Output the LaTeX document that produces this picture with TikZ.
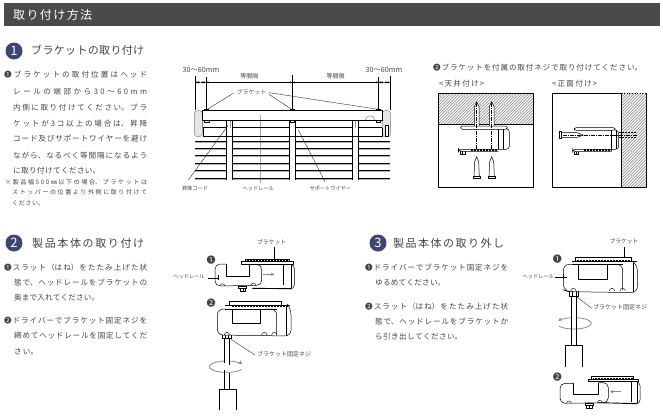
\documentclass[tikz,border=0pt]{standalone}
\usepackage{fontspec}
\usetikzlibrary{arrows.meta}
\newfontfamily\jp{Noto Sans CJK JP}
\definecolor{barc}{HTML}{4A4A4A}
\definecolor{navy}{HTML}{3F4470}
\definecolor{bodyc}{HTML}{444444}
\definecolor{capc}{HTML}{E6E6E6}
\newcounter{tn}
\newcommand\sk{\hspace{0pt plus 1fil}}
% fitted line of text: x, y, width, size, text
\newcommand\fitline[5]{\stepcounter{tn}\node[fittxt] (t\thetn) at (#1,#2) {\parbox{#3pt}{\fontsize{#4}{#4}\jp\XeTeXlinebreaklocale "ja"\XeTeXlinebreakskip=0pt plus 1fil\parfillskip=0pt\relax\noindent #5\par}};}
% short label centred in the current scope
\newcommand\lab[4]{\stepcounter{tn}\node[labtxt,font=\fontsize{#3}{#3}\jp] (t\thetn) at (#1,#2) {#4};}
\tikzset{
 fittxt/.style={anchor=west,inner sep=0pt,text=bodyc},
 labtxt/.style={inner sep=0pt,text=bodyc},
 ln/.style={line width=0.5pt,black},
 thk/.style={line width=0.9pt,black},
 lead/.style={line width=0.3pt,black},
 rot/.style={line width=0.8pt,black!45},
 fatarrow/.style={line width=1pt,black!45,-{Triangle[length=3pt,width=3pt]}},
 dimarrow/.style={line width=0.5pt,black,{Stealth[length=2.5pt,width=2pt]}-{Stealth[length=2.5pt,width=2pt]}},
 ctr/.style={line width=0.4pt,black,dash pattern=on 4pt off 1pt on 1pt off 1pt},
 hat/.style={line width=0.3pt,black!70},
 zoomA/.style={shift={(170,60)},x=0.33333pt,y=-0.33333pt},
 zoomB/.style={shift={(430,60)},x=0.33333pt,y=-0.33333pt},
 zoomC/.style={shift={(165,230)},x=0.33333pt,y=-0.33333pt},
 zoomD/.style={shift={(510,230)},x=0.33333pt,y=-0.33333pt},
 numdot/.style={circle,fill=navy,minimum size=17pt,inner sep=0pt,text=white,font=\fontsize{13}{13}\selectfont\jp},
}
\begin{document}
\begin{tikzpicture}[x=1pt,y=-1pt,line join=round]
\useasboundingbox (0,0) rectangle (663,415);
\fill[white] (0,0) rectangle (663,415);
% header
\fill[barc] (4,3) rectangle (660,26);
\node[anchor=west,inner sep=0pt,text=white] (hd) at (13,15) {\parbox{79pt}{\fontsize{12}{12}\jp\XeTeXlinebreaklocale "ja"\XeTeXlinebreakskip=0pt plus 1fil\parfillskip=0pt\relax\noindent 取り付け方法\par}};
% section heads
\node[numdot] (n1) at (14,51) {1};
\fitline{31}{50}{113}{11}{ブラケットの取り付け}
\node[numdot] (n2) at (14,243) {2};
\fitline{32}{243}{112}{11}{製品本体の取り付け}
\node[numdot] (n3) at (378,243) {3};
\fitline{393}{243}{111}{11}{製品本体の取り外し}
% body 1
\fitline{4}{75}{143}{7.6}{❶ブラケットの取付位置はヘッド}
\fitline{13}{92}{134}{7.6}{レールの端部から3\sk0\sk〜\sk6\sk0\sk m\sk m}
\fitline{13}{108}{134}{7.6}{内側に取り付けてください。ブラ}
\fitline{13}{124}{134}{7.6}{ケットが3コ以上の場合は、昇降}
\fitline{13}{139}{134}{7.6}{コード及びサポートワイヤーを避け}
\fitline{13}{156}{134}{7.6}{ながら、なるべく等間隔になるよう}
\fitline{13}{171}{87}{7.6}{に取り付けてください。}
\fitline{5}{182}{142}{6}{※製品幅5\sk0\sk0\sk㎜以下の場合、ブラケットは}
\fitline{12}{192}{135}{6}{ストッパーの位置より外側に取り付けて}
\fitline{12}{203}{32}{6}{ください。}
% body 2
\fitline{4}{268}{143}{7.6}{❶スラット（はね）をたたみ上げた状}
\fitline{14}{283}{133}{7.6}{態で、ヘッドレールをブラケットの}
\fitline{14}{298}{85}{7.6}{奥まで入れてください。}
\fitline{4}{321}{143}{7.6}{❷ドライバーでブラケット固定ネジを}
\fitline{14}{336}{133}{7.6}{締めてヘッドレールを固定してくだ}
\fitline{14}{352}{24}{7.6}{さい。}
% body 3
\fitline{365}{268}{143}{7.6}{❶ドライバーでブラケット固定ネジを}
\fitline{375}{283}{70}{7.6}{ゆるめてください。}
\fitline{365}{307}{143}{7.6}{❷スラット（はね）をたたみ上げた状}
\fitline{375}{322}{133}{7.6}{態で、ヘッドレールをブラケットか}
\fitline{375}{337}{87}{7.6}{ら引き出してください。}
% heading of fixing views
\fitline{433}{68}{209}{7.6}{❷ブラケットを付属の取付ネジで取り付けてください。}
\fitline{439}{84}{45}{7.6}{<天井付け>}
\fitline{552}{84}{45}{7.6}{<正面付け>}

%% ---------- diagram A
\begin{scope}[zoomA]
 \foreach \y in {243,265,287,310,332,354}{
  \draw[line width=0.9pt,black!30] (75,\y+3) -- (660,\y+3);
  \draw[line width=0.4pt,black] (75,\y) -- (660,\y);
 }
 \foreach \a/\b in {170/186,358/376,548/566}{
  \fill[white] (\a,182) rectangle (\b,360);
  \draw[ln] (\a,182) -- (\a,360) (\b,182) -- (\b,360);
 }
 % end caps
 \draw[line width=0.4pt,black!50,fill=capc,rounded corners=3pt] (73,152) rectangle (97,230);
 \draw[line width=0.4pt,black!50,fill=capc,rounded corners=3pt] (637,152) rectangle (662,230);
 \draw[ln,fill=white] (645,195) rectangle (655,230);
 % rail
 \draw[thk,fill=white] (97,152) rectangle (637,182);
 \fill[white] (170.7,182.5) rectangle (185.3,230);
 \fill[white] (358.7,182.5) rectangle (375.3,230);
 \fill[white] (548.7,182.5) rectangle (565.3,230);
 \draw[thk] (100,203) -- (100,230) -- (637,230) -- (637,203);
 \draw[ln] (100,203) -- (170,203) (186,203) -- (358,203) (376,203) -- (548,203) (566,203) -- (637,203);
 \draw[ln] (170,203) -- (170,230) (186,203) -- (186,230) (358,203) -- (358,230) (376,203) -- (376,230) (548,203) -- (548,230) (566,203) -- (566,230);
 \draw[line width=0.6pt,black!40] (180,182) -- (180,203) (557,182) -- (557,203);
 \draw[line width=0.4pt,black!60] (97,182) -- (97,203) (585,182) arc[start angle=180,end angle=360,radius=15];
 % brackets
 \foreach \x in {103,360,618}{
  \fill[black] (\x,148) rectangle (\x+14,152);
  \draw[line width=0.4pt,fill=white] (\x,182) rectangle (\x+14,188);
 }
 % dimension lines
 \draw[lead] (75,48) -- (75,150) (108,50) -- (108,150) (367,45) -- (367,150) (625,50) -- (625,150) (660,48) -- (660,150);
 \draw[dimarrow] (75,67) -- (92,67);
 \draw[dimarrow] (92,67) -- (108,67);
 \draw[dimarrow] (108,67) -- (367,67);
 \draw[dimarrow] (367,67) -- (625,67);
 \draw[dimarrow] (625,67) -- (642,67);
 \draw[dimarrow] (642,67) -- (660,67);
 % leaders
 \draw[lead] (190,100) -- (112,148) (297,103) -- (365,148) (297,98) -- (625,148);
 \draw[lead] (175,195) -- (55,360) (272,165) -- (272,370) (385,210) -- (465,365);
 \lab{93}{30}{7.2}{30〜60mm}
 \lab{642}{30}{7.2}{30〜60mm}
 \lab{238}{48}{6}{等間隔}
 \lab{497}{48}{6}{等間隔}
 \lab{245}{96}{6}{ブラケット}
 \lab{75}{385}{5.2}{昇降コード}
 \lab{265}{385}{5.2}{ヘッドレール}
 \lab{481}{385}{5.2}{サポートワイヤー}
\end{scope}

%% ---------- diagram B
\begin{scope}[zoomB]
 % hatching
 \begin{scope}
  \clip (25,100) rectangle (310,192);
  \foreach \i in {-100,-91,...,320}{\draw[hat] (\i,200) -- (\i+120,80);}
 \end{scope}
 \begin{scope}
  \clip (575,100) rectangle (650,382);
  \foreach \i in {560,569,...,1040}{\draw[hat] (\i-300,390) -- (\i,90);}
 \end{scope}
 \draw[thk] (25,100) rectangle (310,382);
 \draw[thk] (25,192) -- (310,192);
 \draw[thk] (368,100) rectangle (575,382);
 \draw[thk] (575,100) -- (575,382) -- (650,382) -- (650,100);
 \draw[line width=0.6pt,dotted] (575,100) -- (650,100);
 % ceiling bracket
 \draw[ln,fill=white,rounded corners=2pt] (92,198) -- (232,198) -- (232,208) -- (92,208) -- cycle;
 \draw[ln,rounded corners=3pt] (232,206) -- (238,206) -- (238,268) -- (85,268) -- (85,274) -- (205,274);
 \draw[ln] (205,208) -- (205,268) (220,208) -- (220,268);
 \draw[line width=1.6pt,black,dash pattern=on 2pt off 1pt] (122,270) -- (200,270);
 \draw[line width=0.5pt] (90,274) -- (90,282) -- (105,282) -- (105,274) (97,274) -- (97,282);
 \foreach \x in {140,185}{
  \draw[ln,fill=white] (\x-7,198) -- (\x-7,140) -- (\x,125) -- (\x+7,140) -- (\x+7,198);
  \draw[ctr] (\x,130) -- (\x,268);
  \draw[ln,fill=white] (\x-8,350) -- (\x-6,305) -- (\x,290) -- (\x+6,305) -- (\x+8,350);
  \draw[line width=0.5pt,black,fill=white] (\x-11,350) rectangle (\x+11,356);
 }
 % wall bracket
 \draw[ln,fill=white,rounded corners=2pt] (433,203) -- (555,203) -- (555,211) -- (433,211) -- cycle;
 \draw[ln,rounded corners=3pt] (555,211) -- (566,211) -- (566,268) -- (428,268) -- (428,275) -- (545,275);
 \draw[ln] (545,211) -- (545,268) (558,211) -- (558,268);
 \draw[line width=1.5pt,dash pattern=on 2pt off 1pt] (462,270) -- (545,270);
 \draw[line width=0.5pt] (432,275) -- (432,284) -- (446,284) -- (446,275) (439,275) -- (439,284);
 \draw[line width=0.5pt,fill=white] (388,214) rectangle (394,236);
 \draw[ln] (394,218) -- (442,218) -- (460,225) -- (442,232) -- (394,232);
 \draw[ctr] (400,225) -- (622,225);
 \draw[line width=0.5pt,densely dotted] (566,218) -- (620,218) (566,232) -- (620,232);
\end{scope}

%% ---------- diagram C
\begin{scope}[zoomC]
 \lab{138}{90}{9}{❶}
 \lab{138}{220}{9}{❷}
 \lab{320}{36}{5.8}{ブラケット}
 \lab{357}{372}{6}{ブラケット固定ネジ}
 \lab{72}{140}{5.2}{ヘッドレール}
 \draw[lead] (327,50) -- (327,88);
 \draw[lead] (130,143) -- (160,143) (160,135) -- (160,150);
 % upper
 \draw[ln] (240,88) rectangle (372,95);
 \draw[ln] (230,95) rectangle (385,103);
 \draw[line width=0.5pt,densely dotted] (245,92) -- (368,92);
 \draw[ln,rounded corners=5pt] (183,102) -- (150,102) -- (150,168) -- (290,166) -- (290,103) -- (253,103);
 \draw[ln] (183,102) -- (183,140) -- (253,140) -- (253,103);
 \draw[ln] (355,103) -- (355,165);
 \draw[ln,rounded corners=4pt] (375,103) -- (388,103) -- (388,177) -- (375,177);
 \draw[ln] (378,103) -- (378,175);
 \draw[thk] (262,175) -- (378,176);
 \draw[ln] (220,168) rectangle (245,176);
 \draw[ln] (226,176) -- (226,183) -- (242,183) -- (242,176) (234,176) -- (234,183);
 \draw[line width=0.4pt] (258,166) arc[start angle=180,end angle=360,radius=7];
 \draw[line width=0.4pt] (165,168) arc[start angle=180,end angle=360,radius=7];
 \draw[fatarrow] (295,133) -- (328,133);
 % lower
 \draw[ln] (193,226) -- (193,214) -- (348,214) -- (348,226);
 \draw[ln] (180,226) -- (375,226);
 \draw[thk] (180,237) -- (335,237);
 \draw[line width=0.5pt,densely dotted] (200,230) -- (370,230);
 \draw[ln,rounded corners=6pt] (180,237) -- (157,237) -- (157,315) -- (378,318) -- (378,236) -- (370,226);
 \draw[ln,rounded corners=6pt] (300,237) -- (335,237) -- (335,315);
 \draw[ln] (203,238) -- (203,280) -- (285,280) -- (285,238);
 \draw[ln] (365,232) -- (365,318);
 \draw[line width=0.4pt] (178,315) arc[start angle=180,end angle=360,radius=8];
 \draw[line width=0.4pt] (290,315) arc[start angle=180,end angle=360,radius=8];
 \draw[line width=0.4pt] (320,315) arc[start angle=180,end angle=360,radius=8];
 \draw[ln] (172,315) -- (172,326) -- (200,326) -- (200,315) (180,315) -- (180,326) (190,315) -- (190,326);
 \draw[rot,-{Stealth[length=4pt,width=4pt]}] (230,418.5) arc[start angle=30,end angle=335,x radius=52,y radius=17];
 \fill[white] (176,388) rectangle (194,398);
 \draw[ln] (178,328) -- (178,400) (178,420) -- (178,478) (192,328) -- (192,404) (192,428) -- (192,478);
 \draw[ln] (162,540) -- (162,478) -- (214,478) -- (214,540);
 \draw[lead] (198,328) -- (270,375);
\end{scope}

%% ---------- diagram D
\begin{scope}[zoomD]
 \lab{142}{87}{9}{❶}
 \lab{142}{440}{9}{❷}
 \lab{342}{33}{5.8}{ブラケット}
 \lab{330}{232}{6}{ブラケット固定ネジ}
 \lab{85}{140}{5.2}{ヘッドレール}
 \draw[lead] (342,50) -- (342,83);
 \draw[lead] (135,140) -- (172,140) (160,132) -- (160,148);
 % upper
 \draw[ln] (197,95) -- (197,83) -- (365,83) -- (365,95);
 \draw[ln] (185,95) -- (380,95);
 \draw[thk] (185,103) -- (338,103);
 \draw[line width=0.5pt,densely dotted] (200,90) -- (362,90);
 \draw[ln,rounded corners=6pt] (185,103) -- (160,103) -- (160,180) -- (175,185) -- (382,188) -- (382,103) -- (372,97);
 \draw[ln,rounded corners=6pt] (300,103) -- (338,103) -- (338,180);
 \draw[ln] (205,103) -- (205,148) -- (292,148) -- (292,103);
 \draw[ln] (370,100) -- (370,187);
 \draw[line width=0.4pt] (182,183) arc[start angle=180,end angle=360,radius=8];
 \draw[line width=0.4pt] (298,183) arc[start angle=180,end angle=360,radius=8];
 \draw[line width=0.4pt] (330,183) arc[start angle=180,end angle=360,radius=8];
 \draw[ln] (177,183) -- (177,198) -- (205,198) -- (205,183) (186,183) -- (186,198) (198,183) -- (198,198);
 \draw[rot,-{Stealth[length=4pt,width=4pt]}] (147,288.5) arc[start angle=150,end angle=-155,x radius=52,y radius=17];
 \fill[white] (183,258) rectangle (202,268);
 \draw[ln] (185,198) -- (185,345) (200,198) -- (200,345);
 \draw[ln] (165,412) -- (165,345) -- (218,345) -- (218,412);
 \draw[lead] (200,200) -- (245,235);
 % lower
 \draw[ln] (245,448) -- (245,440) -- (370,440) -- (370,448);
 \draw[ln] (235,448) rectangle (385,455);
 \draw[line width=0.5pt,densely dotted] (250,445) -- (368,445);
 \draw[ln,rounded corners=5pt] (190,460) -- (150,460) -- (150,520) -- (295,518) -- (295,458) -- (265,458);
 \draw[ln] (190,460) -- (190,492) -- (265,492) -- (265,458);
 \draw[ln] (365,455) -- (365,515);
 \draw[ln,rounded corners=4pt] (378,455) -- (390,455) -- (390,522) -- (378,522);
 \draw[ln] (382,455) -- (382,520);
 \draw[thk] (265,518) -- (380,521);
 \draw[line width=0.4pt] (170,520) arc[start angle=180,end angle=360,radius=7];
 \draw[line width=0.4pt] (262,518) arc[start angle=180,end angle=360,radius=7];
 \draw[ln] (226,520) rectangle (250,527);
 \draw[ln] (230,527) -- (230,535) -- (247,535) -- (247,527) (238,527) -- (238,535);
 \draw[fatarrow] (333,485) -- (300,485);
\end{scope}
\end{tikzpicture}
\end{document}
